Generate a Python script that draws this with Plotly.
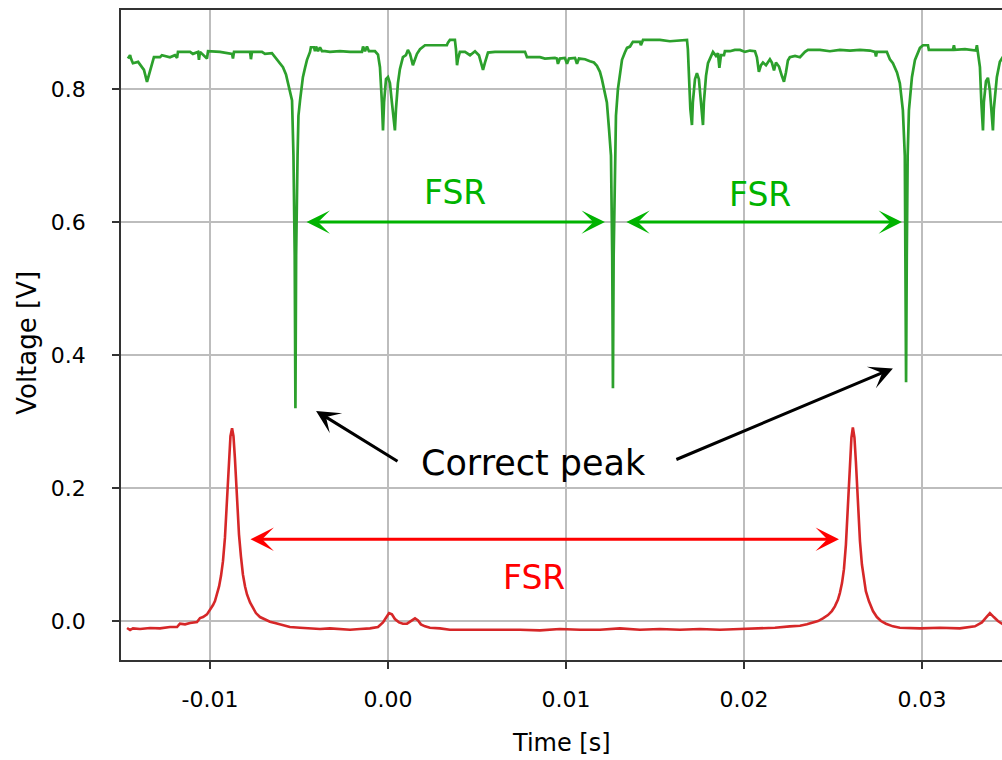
import plotly.graph_objects as go

# ---------------- data ----------------
# time in milliseconds, voltage in volts
green_t_ms = [
    -14.61, -14.49, -14.44, -14.33, -14.04, -13.88, -13.71, -13.54, -13.37, -13.15,
    -12.81, -12.70, -12.25, -11.97, -11.85, -11.80, -11.12, -10.96, -10.67, -10.62,
    -10.56, -10.17, -10.11, -9.44, -8.76, -8.71, -8.65, -7.75, -7.70, -7.64,
    -7.08, -6.91, -6.52, -6.29, -6.07, -5.90, -5.73, -5.62, -5.51, -5.39,
    -5.31, -5.24, -5.20, -5.16, -5.08, -5.03, -4.94, -4.83, -4.78, -4.66,
    -4.55, -4.38, -4.33, -4.16, -4.10, -4.04, -3.93, -3.82, -3.71, -3.54,
    -3.26, -2.70, -2.13, -1.46, -1.40, -1.29, -1.18, -1.07, -0.73, -0.56,
    -0.45, -0.34, -0.28, -0.22, -0.11, 0.00, 0.11, 0.22, 0.39, 0.45,
    0.56, 0.67, 0.84, 1.01, 1.12, 1.24, 1.40, 1.52, 1.63, 1.80,
    2.08, 2.92, 3.31, 3.37, 3.48, 3.76, 3.82, 3.88, 3.93, 4.04,
    4.33, 4.61, 4.89, 5.11, 5.22, 5.34, 5.45, 5.62, 6.01, 6.29,
    6.85, 7.42, 7.70, 7.81, 8.54, 8.82, 9.38, 9.49, 9.55, 9.66,
    9.94, 10.06, 10.17, 10.51, 10.62, 10.73, 11.07, 11.35, 11.57, 11.74,
    11.91, 12.02, 12.13, 12.30, 12.42, 12.53, 12.60, 12.64, 12.68, 12.75,
    12.81, 12.92, 13.03, 13.15, 13.31, 13.43, 13.60, 13.76, 14.16, 14.21,
    14.33, 15.28, 15.84, 16.40, 16.80, 16.85, 16.91, 16.99, 17.08, 17.13,
    17.25, 17.36, 17.47, 17.58, 17.70, 17.75, 17.87, 17.98, 18.15, 18.26,
    18.43, 18.54, 18.62, 18.71, 18.88, 18.93, 19.21, 19.49, 19.78, 20.06,
    20.34, 20.62, 20.73, 20.84, 20.96, 21.07, 21.24, 21.46, 21.57, 21.69,
    21.80, 21.97, 22.13, 22.25, 22.36, 22.47, 22.58, 22.87, 23.15, 23.43,
    23.60, 24.27, 24.83, 25.39, 25.96, 26.52, 27.08, 27.36, 27.42, 27.47,
    28.03, 28.20, 28.37, 28.60, 28.76, 28.93, 29.04, 29.07, 29.11, 29.15,
    29.20, 29.27, 29.44, 29.61, 29.78, 29.89, 30.06, 30.34, 30.39, 30.73,
    31.29, 31.74, 31.80, 31.85, 32.42, 33.03, 33.09, 33.15, 33.26, 33.34,
    33.43, 33.48, 33.60, 33.71, 33.82, 33.90, 33.99, 34.04, 34.21, 34.38,
    34.61,
]
green_v = [
    0.846, 0.851, 0.846, 0.839, 0.841, 0.836, 0.829, 0.811, 0.829, 0.848,
    0.848, 0.851, 0.848, 0.851, 0.847, 0.856, 0.856, 0.853, 0.856, 0.844,
    0.856, 0.846, 0.857, 0.856, 0.853, 0.846, 0.856, 0.856, 0.845, 0.856,
    0.856, 0.853, 0.854, 0.846, 0.840, 0.833, 0.822, 0.809, 0.795, 0.783,
    0.700, 0.550, 0.320, 0.550, 0.700, 0.760, 0.783, 0.805, 0.818, 0.832,
    0.844, 0.856, 0.863, 0.863, 0.857, 0.864, 0.857, 0.863, 0.857, 0.857,
    0.856, 0.857, 0.856, 0.856, 0.864, 0.857, 0.864, 0.857, 0.857, 0.852,
    0.833, 0.780, 0.738, 0.780, 0.815, 0.818, 0.809, 0.780, 0.738, 0.770,
    0.809, 0.830, 0.848, 0.851, 0.859, 0.853, 0.836, 0.845, 0.853, 0.860,
    0.866, 0.866, 0.866, 0.870, 0.874, 0.874, 0.860, 0.836, 0.845, 0.856,
    0.856, 0.851, 0.857, 0.851, 0.840, 0.829, 0.840, 0.855, 0.856, 0.856,
    0.856, 0.855, 0.856, 0.848, 0.848, 0.846, 0.847, 0.846, 0.838, 0.846,
    0.847, 0.838, 0.846, 0.847, 0.838, 0.846, 0.845, 0.842, 0.840, 0.835,
    0.826, 0.815, 0.800, 0.780, 0.740, 0.700, 0.550, 0.350, 0.550, 0.700,
    0.760, 0.800, 0.825, 0.844, 0.855, 0.862, 0.864, 0.871, 0.871, 0.866,
    0.874, 0.874, 0.872, 0.873, 0.874, 0.860, 0.820, 0.770, 0.746, 0.780,
    0.815, 0.824, 0.815, 0.780, 0.746, 0.780, 0.820, 0.839, 0.851, 0.856,
    0.850, 0.854, 0.832, 0.851, 0.851, 0.857, 0.857, 0.859, 0.859, 0.856,
    0.858, 0.857, 0.848, 0.826, 0.836, 0.840, 0.836, 0.845, 0.840, 0.828,
    0.840, 0.834, 0.820, 0.811, 0.825, 0.843, 0.848, 0.850, 0.848, 0.856,
    0.859, 0.859, 0.857, 0.859, 0.858, 0.859, 0.858, 0.856, 0.849, 0.856,
    0.856, 0.845, 0.839, 0.825, 0.809, 0.768, 0.700, 0.550, 0.359, 0.550,
    0.700, 0.768, 0.818, 0.844, 0.856, 0.862, 0.866, 0.866, 0.859, 0.859,
    0.859, 0.859, 0.866, 0.859, 0.860, 0.858, 0.866, 0.852, 0.833, 0.780,
    0.738, 0.780, 0.812, 0.817, 0.798, 0.770, 0.738, 0.770, 0.818, 0.841,
    0.851,
]

red_t_ms = [
    -14.66, -14.49, -14.33, -13.93, -13.37, -12.81, -12.25, -11.85, -11.69, -11.40,
    -11.12, -10.73, -10.56, -10.39, -10.17, -10.00, -9.83, -9.72, -9.61, -9.49,
    -9.38, -9.27, -9.16, -9.04, -8.93, -8.85, -8.76, -8.68, -8.60, -8.48,
    -8.37, -8.26, -8.15, -8.03, -7.92, -7.75, -7.58, -7.42, -7.19, -6.91,
    -6.63, -6.35, -6.07, -5.79, -5.51, -4.94, -4.38, -3.82, -3.26, -2.70,
    -2.13, -1.57, -1.01, -0.56, -0.28, -0.11, 0.06, 0.22, 0.39, 0.62,
    0.84, 1.07, 1.24, 1.40, 1.52, 1.69, 1.85, 2.08, 2.36, 2.92,
    3.48, 4.61, 5.17, 6.29, 7.42, 8.54, 9.66, 10.79, 11.91, 13.03,
    14.16, 15.28, 16.40, 17.53, 18.65, 19.78, 20.90, 21.74, 22.58, 23.15,
    23.54, 23.88, 24.16, 24.44, 24.72, 24.94, 25.11, 25.28, 25.39, 25.51,
    25.62, 25.73, 25.84, 25.96, 26.04, 26.12, 26.21, 26.29, 26.40, 26.52,
    26.63, 26.74, 26.85, 27.02, 27.25, 27.47, 27.70, 27.98, 28.37, 28.76,
    29.89, 31.01, 32.13, 32.98, 33.37, 33.60, 33.82, 34.04, 34.27, 34.61,
]
red_v = [
    -0.0105, -0.0135, -0.0110, -0.0120, -0.0105, -0.0110, -0.0090, -0.0090, -0.0040, -0.0050,
    -0.0030, -0.0015, 0.0045, 0.0060, 0.0100, 0.0165, 0.0240, 0.0300, 0.0400, 0.0520,
    0.0680, 0.0900, 0.1250, 0.1850, 0.2450, 0.2780, 0.2900, 0.2780, 0.2450, 0.1850,
    0.1300, 0.0970, 0.0700, 0.0520, 0.0400, 0.0280, 0.0190, 0.0120, 0.0060, 0.0020,
    -0.0010, -0.0030, -0.0050, -0.0070, -0.0090, -0.0100, -0.0110, -0.0120, -0.0110, -0.0120,
    -0.0130, -0.0120, -0.0110, -0.0090, -0.0020, 0.0050, 0.0120, 0.0100, 0.0030, -0.0020,
    -0.0040, -0.0040, -0.0010, 0.0020, 0.0040, 0.0010, -0.0050, -0.0080, -0.0100, -0.0110,
    -0.0130, -0.0130, -0.0130, -0.0120, -0.0130, -0.0140, -0.0120, -0.0130, -0.0130, -0.0110,
    -0.0130, -0.0120, -0.0130, -0.0120, -0.0130, -0.0120, -0.0110, -0.0100, -0.0080, -0.0070,
    -0.0050, -0.0020, 0.0000, 0.0040, 0.0090, 0.0150, 0.0220, 0.0320, 0.0420, 0.0570,
    0.0780, 0.1150, 0.1750, 0.2400, 0.2760, 0.2910, 0.2760, 0.2400, 0.1750, 0.1200,
    0.0850, 0.0620, 0.0450, 0.0300, 0.0150, 0.0060, 0.0000, -0.0040, -0.0080, -0.0100,
    -0.0110, -0.0100, -0.0110, -0.0080, -0.0020, 0.0050, 0.0120, 0.0060, 0.0000, -0.0060,
]

x_tickvals = [-0.01, 0.00, 0.01, 0.02, 0.03]
x_ticktext = ["-0.01", "0.00", "0.01", "0.02", "0.03"]
y_tickvals = [0.0, 0.2, 0.4, 0.6, 0.8]
y_ticktext = ["0.0", "0.2", "0.4", "0.6", "0.8"]
x_title = "Time [s]"
y_title = "Voltage [V]"

# annotation anchors (data units: seconds, volts)
fsr_green_arrows = [(-0.00466, 0.01219, 0.600), (0.01331, 0.02888, 0.600)]
fsr_green_labels = [(0.00376, 0.644), (0.0209, 0.641)]
fsr_red_arrow = (-0.00781, 0.02534, 0.123)
fsr_red_label = (0.0082, 0.065)
peak_label = (0.00815, 0.238)
peak_arrows = [((0.00062, 0.239), (-0.00404, 0.316)), ((0.01612, 0.242), (0.02837, 0.380))]

FONT = "DejaVu Sans"
GREEN_TXT = "#00b300"
RED_TXT = "#ff0000"

green_t = [t / 1000.0 for t in green_t_ms]
red_t = [t / 1000.0 for t in red_t_ms]

fig = go.Figure()
fig.add_trace(go.Scatter(x=green_t, y=green_v, mode="lines",
                         line=dict(color="#2ca02c", width=2.7), showlegend=False))
fig.add_trace(go.Scatter(x=red_t, y=red_v, mode="lines",
                         line=dict(color="#d62728", width=2.6), showlegend=False))

ann = []
for x0, x1, y in fsr_green_arrows:
    ann.append(dict(x=x1, y=y, ax=x0, ay=y, xref="x", yref="y", axref="x", ayref="y",
                    text="", showarrow=True, arrowhead=3, arrowside="end+start",
                    arrowsize=1.3, arrowwidth=3, arrowcolor=GREEN_TXT, standoff=0, startstandoff=0))
for x, y in fsr_green_labels:
    ann.append(dict(x=x, y=y, xref="x", yref="y", text="FSR", showarrow=False,
                    font=dict(family=FONT, size=33, color=GREEN_TXT)))
x0, x1, y = fsr_red_arrow
ann.append(dict(x=x1, y=y, ax=x0, ay=y, xref="x", yref="y", axref="x", ayref="y",
                text="", showarrow=True, arrowhead=3, arrowside="end+start",
                arrowsize=1.3, arrowwidth=3, arrowcolor=RED_TXT, standoff=0, startstandoff=0))
ann.append(dict(x=fsr_red_label[0], y=fsr_red_label[1], xref="x", yref="y", text="FSR",
                showarrow=False, font=dict(family=FONT, size=33, color=RED_TXT)))
ann.append(dict(x=peak_label[0], y=peak_label[1], xref="x", yref="y", text="Correct peak",
                showarrow=False, font=dict(family=FONT, size=35, color="black")))
for (tx, ty), (hx, hy) in peak_arrows:
    ann.append(dict(x=hx, y=hy, ax=tx, ay=ty, xref="x", yref="y", axref="x", ayref="y",
                    text="", showarrow=True, arrowhead=3, arrowsize=1.3, arrowwidth=3,
                    arrowcolor="black", standoff=0))
# axis titles
ann.append(dict(x=0.5, y=-0.1277, xref="paper", yref="paper", text=x_title, showarrow=False,
                xanchor="center", yanchor="middle",
                font=dict(family=FONT, size=24, color="black")))
ann.append(dict(x=-0.1067, y=0.488, xref="paper", yref="paper", text=y_title, showarrow=False,
                xanchor="center", yanchor="middle", textangle=-90,
                font=dict(family=FONT, size=26, color="black")))

axis_common = dict(showgrid=True, gridcolor="#bdbdbd", gridwidth=1.5,
                   showline=True, linecolor="#333333", linewidth=1.6,
                   ticks="outside", ticklen=7, tickwidth=1.5, tickcolor="#333333",
                   zeroline=False, tickfont=dict(family=FONT, size=22, color="black"))

fig.update_layout(
    width=1002, height=760,
    margin=dict(l=121, r=0, t=10, b=100),
    paper_bgcolor="white", plot_bgcolor="white",
    annotations=ann,
    xaxis=dict(range=[-0.0150, 0.0345], tickvals=x_tickvals, ticktext=x_ticktext,
               mirror=True, ticklabelstandoff=12, automargin=False,
               **axis_common),
    yaxis=dict(range=[-0.0586, 0.919], tickvals=y_tickvals, ticktext=y_ticktext,
               ticklabelstandoff=22, automargin=False,
               **axis_common),
)

fig.write_html("out.html")
